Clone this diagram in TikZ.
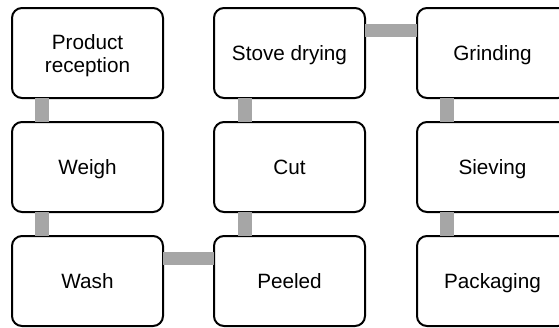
\documentclass[tikz,border=0pt]{standalone}
\usepackage{fontspec}
\setmainfont{Liberation Sans}
\usetikzlibrary{calc}
\definecolor{bargray}{HTML}{A6A6A6}
\tikzset{
  stepbox/.style={draw=black, line width=2pt, rounded corners=10pt, fill=white,
    minimum width=151pt, minimum height=90pt, inner sep=0pt, outer sep=0pt,
    align=center, text height=15pt, text depth=0pt,
    font=\fontsize{20.7pt}{23pt}\selectfont},
  twoline/.style={text height=, text depth=},
  bar/.style={draw=bargray, line width=13.5pt}
}
\begin{document}
\begin{tikzpicture}[x=1pt,y=-1pt]
\useasboundingbox (0,0) rectangle (559,327);
\clip (0,0) rectangle (559,327);
\coordinate (v1) at (42,0);
\coordinate (v2) at (245,0);
\coordinate (v3) at (447,0);
\coordinate (h1) at (0,258.5);
\coordinate (h2) at (0,30.5);
\path (87.5,53) node[stepbox,twoline] (a1) {\rule{0pt}{20pt}Product\\reception};
\path (87.5,167) node[stepbox] (a2) {Weigh};
\path (87.5,281) node[stepbox] (a3) {Wash};
\path (289.5,281) node[stepbox] (b3) {Peeled};
\path (289.5,167) node[stepbox] (b2) {Cut};
\path (289.5,53) node[stepbox] (b1) {Stove drying};
\path (492.5,53) node[stepbox] (c1) {Grinding};
\path (492.5,167) node[stepbox] (c2) {Sieving};
\path (492.5,281) node[stepbox] (c3) {Packaging};
\draw[bar] (v1 |- a1.south) -- (v1 |- a2.north);
\draw[bar] (v1 |- a2.south) -- (v1 |- a3.north);
\draw[bar] (a3.east |- h1) -- (b3.west |- h1);
\draw[bar] (v2 |- b3.north) -- (v2 |- b2.south);
\draw[bar] (v2 |- b2.north) -- (v2 |- b1.south);
\draw[bar] (b1.east |- h2) -- (c1.west |- h2);
\draw[bar] (v3 |- c1.south) -- (v3 |- c2.north);
\draw[bar] (v3 |- c2.south) -- (v3 |- c3.north);
\end{tikzpicture}
\end{document}
